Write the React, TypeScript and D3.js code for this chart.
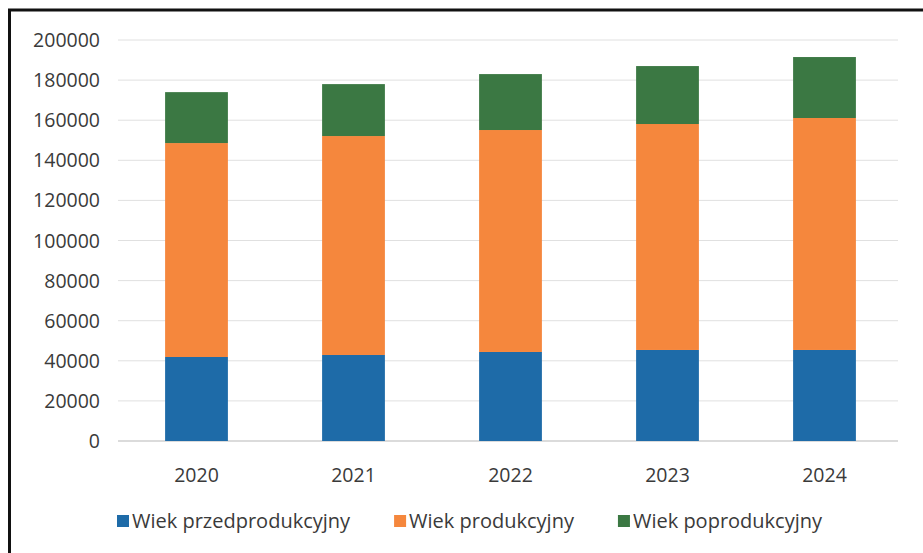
import React, { useEffect, useRef } from "react";
import * as d3 from "d3";

const years = ["2020", "2021", "2022", "2023", "2024"];
const preProductive = [41900, 42900, 44400, 45400, 45400];
const productive = [106700, 109200, 110700, 112700, 115700];
const postProductive = [25400, 25900, 27900, 28900, 30400];
const seriesNames = ["Wiek przedprodukcyjny", "Wiek produkcyjny", "Wiek poprodukcyjny"];
const seriesColors = ["#1e6ba8", "#f5873d", "#3b7843"];
const yTicks = [0, 20000, 40000, 60000, 80000, 100000, 120000, 140000, 160000, 180000, 200000];

const W = 923;
const H = 553;
const FONT = "'Open Sans', 'Liberation Sans', Arial, sans-serif";

export default function App() {
  const ref = useRef<SVGSVGElement | null>(null);

  useEffect(() => {
    const svg = d3.select(ref.current);
    svg.selectAll("*").remove();

    const left = 118, right = 903, top = 40, bottom = 441;
    const x = d3.scaleBand<string>().domain(years).range([left, right]).paddingInner(0.6).paddingOuter(0.3);
    const y = d3.scaleLinear().domain([0, 200000]).range([bottom, top]);

    svg.append("rect").attr("width", W).attr("height", H).attr("fill", "#fff");

    // frame
    svg.append("path")
      .attr("d", `M9.5,${H + 5} L9.5,10 L${W + 5},10`)
      .attr("fill", "none").attr("stroke", "#111").attr("stroke-width", 3);

    // gridlines
    svg.append("g").selectAll("line").data(yTicks).join("line")
      .attr("x1", left).attr("x2", 898)
      .attr("y1", (d) => y(d)).attr("y2", (d) => y(d))
      .attr("stroke", (d) => (d === 0 ? "#cfcfcf" : "#e0e0e0"))
      .attr("stroke-width", (d) => (d === 0 ? 1.5 : 1));

    // y tick labels
    svg.append("g").selectAll("text").data(yTicks).join("text")
      .attr("x", 100).attr("y", (d) => y(d)).attr("dy", "0.36em")
      .attr("text-anchor", "end").attr("font-family", FONT).attr("font-size", 19.5)
      .attr("fill", "#3a3a3a").text((d) => String(d));

    // stacked bars
    const table = years.map((yr, i) => ({ year: yr, a: preProductive[i], b: productive[i], c: postProductive[i] }));
    const stack = d3.stack<any>().keys(["a", "b", "c"])(table);
    stack.forEach((layer, si) => {
      svg.append("g").selectAll("rect").data(layer).join("rect")
        .attr("x", (d: any) => x(d.data.year)!)
        .attr("width", x.bandwidth())
        .attr("y", (d: any) => y(d[1]))
        .attr("height", (d: any) => y(d[0]) - y(d[1]))
        .attr("fill", seriesColors[si]);
    });

    // x labels
    svg.append("g").selectAll("text").data(years).join("text")
      .attr("x", (d) => x(d)! + x.bandwidth() / 2).attr("y", 475).attr("dy", "0.36em")
      .attr("text-anchor", "middle").attr("font-family", FONT).attr("font-size", 19.5)
      .attr("fill", "#3a3a3a").text((d) => d);

    // legend
    let lx = 117;
    const ly = 521;
    seriesNames.forEach((name, i) => {
      svg.append("rect").attr("x", lx).attr("y", ly - 6).attr("width", 12).attr("height", 12)
        .attr("fill", seriesColors[i]);
      const t = svg.append("text").attr("x", lx + 15).attr("y", ly).attr("dy", "0.36em")
        .attr("font-family", FONT).attr("font-size", 20).attr("fill", "#3a3a3a").text(name);
      const w = (t.node() as SVGTextElement).getComputedTextLength();
      lx = lx + 15 + w + 44;
    });
  }, []);

  return (
    <svg ref={ref} width={W} height={H} style={{ position: "absolute", left: 0, top: 0, display: "block" }} />
  );
}
